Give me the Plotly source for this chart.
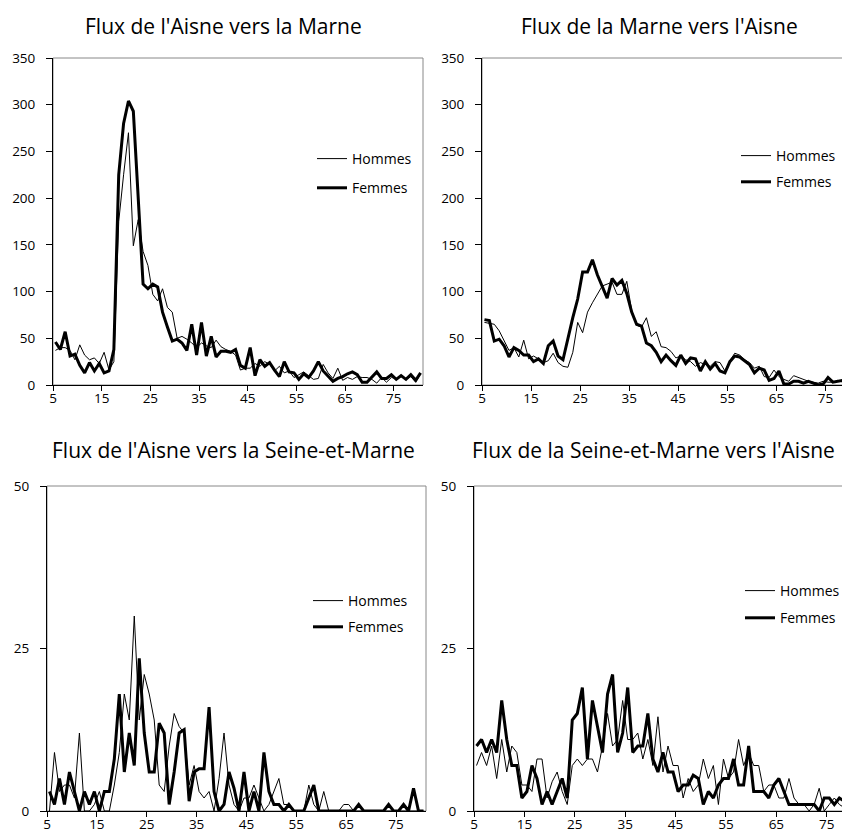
import plotly.graph_objects as go

ages = list(range(5, 81))
tick_vals = [4.5, 14.5, 24.5, 34.5, 44.5, 54.5, 64.5, 74.5]
tick_labels = ["5", "15", "25", "35", "45", "55", "65", "75"]

titles = [
    "Flux de l'Aisne vers la Marne",
    "Flux de la Marne vers l'Aisne",
    "Flux de l'Aisne vers la Seine-et-Marne",
    "Flux de la Seine-et-Marne vers l'Aisne",
]
series_names = ["Hommes", "Femmes"]

aisne_marne_hommes = [
    37, 40, 40, 37, 27, 43, 32, 27, 29, 23,
    35, 16, 25, 175, 225, 270, 149, 177, 143, 128,
    97, 90, 103, 83, 78, 50, 52, 49, 45, 40,
    45, 42, 40, 48, 41, 38, 36, 32, 16, 18,
    18, 23, 20, 25, 22, 15, 20, 13, 15, 8,
    11, 14, 10, 6, 7, 22, 13, 7, 18, 5,
    8, 6, 9, 8, 8, 6, 2, 8, 3, 8,
    7, 9, 6, 9, 3, 12]
aisne_marne_femmes = [
    46, 38, 57, 31, 33, 21, 13, 24, 15, 23,
    13, 15, 38, 225, 280, 304, 293, 200, 108, 103,
    108, 105, 78, 62, 47, 49, 45, 37, 65, 32,
    67, 31, 52, 30, 36, 36, 35, 38, 21, 18,
    40, 10, 27, 20, 24, 16, 9, 25, 14, 13,
    6, 12, 8, 15, 25, 15, 10, 4, 7, 9,
    12, 14, 11, 3, 3, 9, 14, 7, 7, 11,
    6, 10, 6, 11, 5, 13]

marne_aisne_hommes = [
    67, 66, 65, 58, 47, 37, 40, 30, 48, 28,
    31, 28, 24, 26, 34, 24, 20, 19, 35, 67,
    56, 78, 88, 97, 106, 108, 110, 97, 97, 111,
    80, 64, 62, 72, 52, 57, 41, 40, 36, 29,
    31, 27, 25, 20, 24, 22, 20, 25, 24, 15,
    26, 34, 32, 27, 24, 18, 20, 9, 8, 16,
    9, 6, 4, 10, 8, 6, 4, 3, 2, 4,
    3, 3, 5, 3, 1, 0]
marne_aisne_femmes = [
    70, 69, 47, 49, 42, 30, 40, 37, 32, 32,
    25, 28, 23, 42, 47, 31, 27, 50, 72, 92,
    121, 121, 134, 118, 106, 93, 114, 107, 112, 98,
    78, 65, 63, 45, 42, 35, 25, 32, 26, 21,
    32, 23, 29, 28, 15, 25, 17, 23, 15, 13,
    25, 31, 30, 26, 22, 13, 18, 16, 5, 7,
    15, 1, 1, 4, 4, 2, 4, 2, 0, 1,
    8, 3, 4, 5, 5, 0]

aisne_seine_marne_hommes = [
    0, 9, 3, 4, 4, 2, 12, 0, 0, 1,
    3, 0, 0, 4, 9, 18, 14, 30, 14, 21,
    18, 14, 4, 3, 10, 15, 13, 12, 4, 7,
    3, 2, 3, 0, 5, 12, 4, 1, 0, 2,
    2, 4, 2, 0, 1, 3, 5, 1, 1, 0,
    0, 0, 4, 1, 0, 3, 0, 0, 0, 1,
    1, 0, 0, 0, 0, 0, 0, 0, 0, 0,
    0, 0, 0, 0, 0, 0]
aisne_seine_marne_femmes = [
    3, 1, 5, 1, 6, 3, 0, 3, 1, 3,
    0, 3, 3, 8, 18, 6, 12, 7, 23.5, 12,
    6, 6, 13.5, 12, 1, 6, 12, 12.5, 1.5, 6,
    6.5, 6.5, 16, 3, 0, 1, 6, 3.5, 0, 6,
    0, 3, 0, 9, 3, 1, 1, 0, 1, 0,
    0, 0, 2, 4, 0, 0, 0, 0, 0, 0,
    0, 0, 1, 0, 0, 0, 0, 0, 1, 0,
    0, 1, 0, 3.5, 0, 0]

seine_marne_aisne_hommes = [
    7, 9, 7, 10, 5, 11, 6, 10, 9, 4,
    4, 3, 8, 8, 2, 4.5, 6, 3, 1, 7,
    8, 7, 8, 8, 6, 10, 15, 10, 11, 17,
    11, 11, 12, 8, 11, 7, 14.5, 6, 10, 7,
    7, 2, 5, 3, 4, 8, 5, 7, 1, 8,
    5, 6, 11, 7, 9, 7, 7, 3, 4, 4,
    2, 2, 5, 2, 1, 1, 0, 1, 3.5, 0,
    1, 2, 1, 0.5, 0, 0]
seine_marne_aisne_femmes = [
    10, 11, 9, 11, 9, 17, 11, 7, 7, 2,
    3, 7, 5, 1, 3, 1, 3, 5, 2, 14,
    15, 19, 8, 17, 13, 9, 18, 21, 9, 12,
    19, 9, 10, 10, 15, 8, 6, 9, 6, 6,
    3, 4, 4, 5.5, 5, 1, 3, 2, 4, 5,
    5, 8, 4, 4, 10, 3, 3, 3, 2, 4,
    5, 3, 1, 1, 1, 1, 1, 1, 0, 2,
    2, 1, 2, 1.5, 0, 1]

panels_data = [
    (aisne_marne_hommes, aisne_marne_femmes),
    (marne_aisne_hommes, marne_aisne_femmes),
    (aisne_seine_marne_hommes, aisne_seine_marne_femmes),
    (seine_marne_aisne_hommes, seine_marne_aisne_femmes),
]

W, H = 850, 837
FONT = "Open Sans"

# plot areas in pixels: (left, right, top, bottom)
boxes = [
    (45, 415, 50, 377),
    (474, 847, 50, 377),
    (39, 418, 478, 803),
    (466, 849, 478, 803),
]
y_ranges = [[0, 350], [0, 350], [0, 50], [0, 50]]
y_ticks = [list(range(0, 351, 50)), list(range(0, 351, 50)), [0, 25, 50], [0, 25, 50]]
title_pos = [(216, 18), (651, 18), (225, 442), (645, 442)]
# legend: left px, top px, gap between the two items
legend_pos = [(304, 135, 8), (728, 132, 5), (300, 577, 5), (732, 567, 6)]

fig = go.Figure()
layout = dict(
    template="none",
    width=W, height=H,
    margin=dict(l=0, r=0, t=0, b=0, autoexpand=False),
    paper_bgcolor="white", plot_bgcolor="white",
    font=dict(family=FONT, color="black"),
    showlegend=True,
    annotations=[], shapes=[],
)

for i, ((hom, fem), (l, r, t, b)) in enumerate(zip(panels_data, boxes)):
    sfx = "" if i == 0 else str(i + 1)
    xa, ya = "x" + sfx, "y" + sfx
    leg = "legend" + sfx
    fig.add_trace(go.Scatter(
        x=ages, y=hom, mode="lines", name=series_names[0],
        line=dict(color="black", width=1), xaxis=xa, yaxis=ya,
        legend=leg, legendgroup=f"h{i}", hoverinfo="skip"))
    fig.add_trace(go.Scatter(
        x=ages, y=fem, mode="lines", name=series_names[1],
        line=dict(color="black", width=3), xaxis=xa, yaxis=ya,
        legend=leg, legendgroup=f"f{i}", hoverinfo="skip"))

    layout["xaxis" + sfx] = dict(
        domain=[l / W, r / W], anchor=ya, range=[4.5, 80.5],
        tickvals=tick_vals, ticktext=tick_labels,
        ticks="outside", ticklen=5, tickcolor="black", tickwidth=1,
        showline=True, linecolor="black", linewidth=1,
        showgrid=False, zeroline=False, fixedrange=True, automargin=False,
        tickfont=dict(size=13.5, family=FONT, color="black"),
        ticklabelstandoff=-4,
    )
    layout["yaxis" + sfx] = dict(
        domain=[1 - b / H, 1 - t / H], anchor=xa, range=y_ranges[i],
        tickvals=y_ticks[i],
        ticks="outside", ticklen=6, tickcolor="black", tickwidth=1,
        showline=True, linecolor="black", linewidth=1,
        showgrid=False, zeroline=False, fixedrange=True, automargin=False,
        tickfont=dict(size=13.5, family=FONT, color="black"),
        ticklabelstandoff=8,
    )
    layout["shapes"].append(dict(
        type="rect", xref=xa + " domain", yref=ya + " domain",
        x0=0, x1=1, y0=0, y1=1, line=dict(color="#888888", width=1),
        layer="below"))
    tx, ty = title_pos[i]
    layout["annotations"].append(dict(
        text=titles[i], x=tx / W, y=1 - ty / H, xref="paper", yref="paper",
        xanchor="center", yanchor="middle", showarrow=False,
        font=dict(size=21, family=FONT, color="black")))
    lx, ly, gap = legend_pos[i]
    layout[leg] = dict(
        x=lx / W, y=1 - ly / H, xanchor="left", yanchor="top",
        bgcolor="rgba(0,0,0,0)", borderwidth=0,
        font=dict(size=14, family=FONT, color="black"),
        traceorder="grouped", tracegroupgap=gap, itemwidth=30,
    )

fig.update_layout(**layout)
fig.write_html("out.html")
